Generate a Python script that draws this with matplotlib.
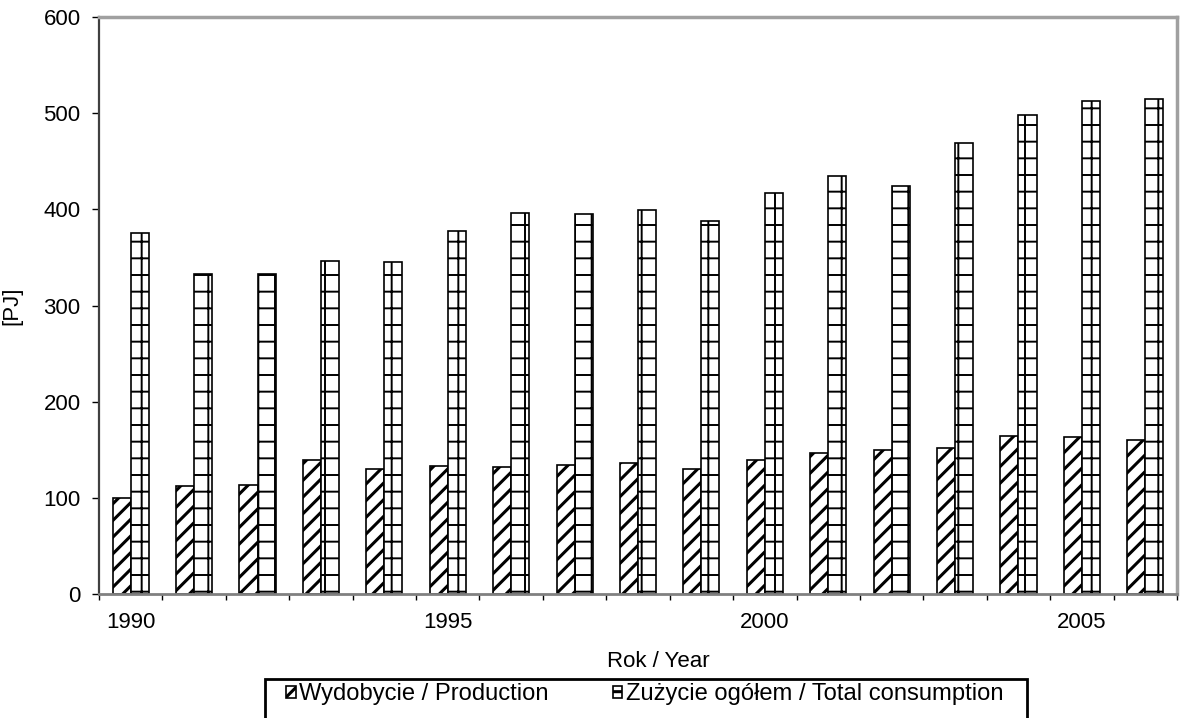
import numpy as np
import matplotlib
matplotlib.use("Agg")
import matplotlib.pyplot as plt
from matplotlib.patches import Rectangle

plt.rcParams['font.family'] = ['Liberation Sans', 'DejaVu Sans']
plt.rcParams['hatch.linewidth'] = 2.2

years = list(range(1990, 2007))
production = [100, 112, 113, 139, 130, 133, 132, 134.5, 136, 130, 139, 146.5, 150, 152, 164.5, 163, 160]
consumption = [375, 333, 333, 346, 345, 377, 396, 395, 399, 388, 417, 435, 424, 469, 498, 513, 515]
label_years = [1990, 1995, 2000, 2005]

fig = plt.figure(figsize=(11.8, 7.18), dpi=100)
ax = fig.add_axes([99/1180, 1-594/718, 1078/1180, 577/718])

x = np.arange(len(years))
w = 0.285
b1 = ax.bar(x - w/2, production, w, color='white', edgecolor='black', linewidth=1.2,
            hatch='//', label='Wydobycie / Production')
b2 = ax.bar(x + w/2, consumption, w, color='white', edgecolor='black', linewidth=1.2,
            hatch='+', label='Zużycie ogółem / Total consumption')
# thinner grid lines for the consumption bars, if this matplotlib allows it
for p in b2:
    if hasattr(p, 'set_hatch_linewidth'):
        p.set_hatch_linewidth(1.4)

ax.set_xlim(-0.5, len(years) - 0.5)
ax.set_ylim(0, 600)
ax.set_yticks(range(0, 601, 100))
ax.tick_params(axis='y', direction='out', length=4.7, width=1, pad=8.5, labelsize=16)

# tick marks between categories, labels every 5 years
ax.set_xticks(np.arange(-0.5, len(years), 1))
ax.set_xticklabels([])
ax.tick_params(axis='x', which='major', direction='out', length=4.5, width=1)
ax.set_xticks([years.index(y) for y in label_years], minor=True)
ax.set_xticklabels([str(y) for y in label_years], minor=True)
ax.tick_params(axis='x', which='minor', length=0, pad=13, labelsize=16)

ax.set_xlabel('Rok / Year', fontsize=16)
ax.xaxis.set_label_coords(0.5186, -0.099)
ax.set_ylabel('[PJ]', fontsize=16)
ax.yaxis.set_label_coords(-0.0714, 0.5)

ax.spines['left'].set_color('#404040')
ax.spines['left'].set_linewidth(1.6)
ax.spines['bottom'].set_color('#808080')
ax.spines['bottom'].set_linewidth(2)
for s in ['top', 'right']:
    ax.spines[s].set_color('#a0a0a0')
    ax.spines[s].set_linewidth(2.5)

leg = fig.legend(loc='upper left', bbox_to_anchor=(286/1180, 1-683/718),
                 ncol=2, fontsize=17.1, frameon=False,
                 handlelength=0.4, handleheight=0.4, handletextpad=0.15,
                 columnspacing=2.7, borderaxespad=0, borderpad=0)
# legend frame, cut by the bottom edge as in the original
fig.patches.append(Rectangle((265/1180, -0.02), 762/1180, 39/718 + 0.02,
                             transform=fig.transFigure, fill=False,
                             edgecolor='black', linewidth=2))

fig.savefig('out.png', dpi=100)
